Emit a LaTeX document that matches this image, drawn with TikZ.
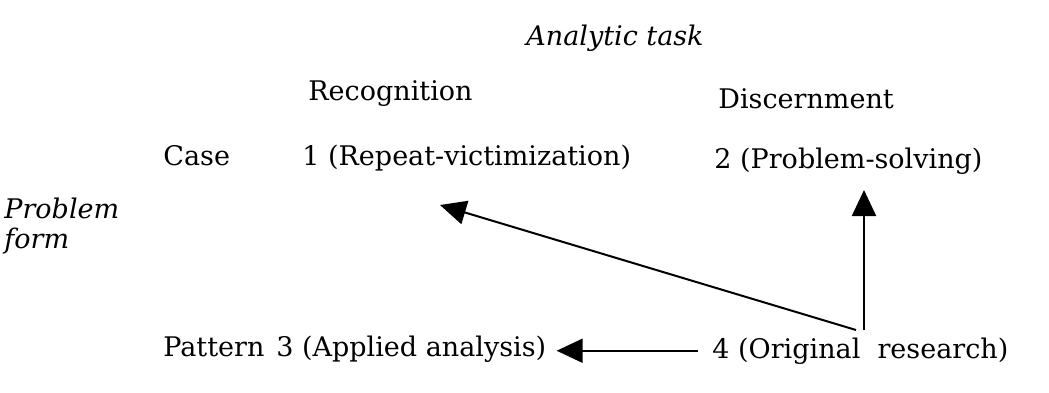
\documentclass[tikz,border=0pt]{standalone}
\usepackage{fontspec}
\setmainfont{DejaVu Serif}
\usepackage{tikz}
\usetikzlibrary{arrows.meta,positioning}

\begin{document}
\begin{tikzpicture}[
  x=0.5pt, y=0.5pt,
  lbl/.style={inner sep=0pt, anchor=base west, font=\fontsize{13.5}{15}\selectfont},
  ilbl/.style={lbl, font=\fontsize{13.5}{15}\selectfont\itshape},
  arr/.style={-{Triangle[length=13pt,width=12pt]}, line width=1pt},
]
  \useasboundingbox (0,0) rectangle (1049,392);

  % Axis headings
  \node[ilbl, anchor=base] (task) at (615,347) {Analytic task};
  \node[lbl] (recog) at (308,292) {Recognition};
  \node[lbl] (disc) at (718,284) {Discernment};
  \node[ilbl, align=left] (form) at (4,144) {Problem\\form};

  % Rows
  \node[lbl] (case) at (163,227) {Case};
  \node[lbl] (pat) at (163,36) {Pattern};

  % Cells
  \node[lbl] (c1) at (302,227) {1 (Repeat-victimization)};
  \node[lbl] (c2) at (714,224) {2 (Problem-solving)};
  \node[lbl] (c3) at (276,36) {3 (Applied analysis)};
  \node[lbl] (c4) at (712,34) {4 (Original~~research)};

  % Arrows out of cell 4
  \coordinate (src1) at (856,62);
  \coordinate (src2) at (864,62);
  \coordinate (tip1) at (440,187);
  \coordinate (tip2) at (864,202);
  \draw[arr] (src1) -- (tip1);
  \draw[arr] (src2) -- (tip2);
  \draw[arr, shorten <=7pt, shorten >=5pt] (c4.west) -- (c4.west -| c3.east);
\end{tikzpicture}
\end{document}
